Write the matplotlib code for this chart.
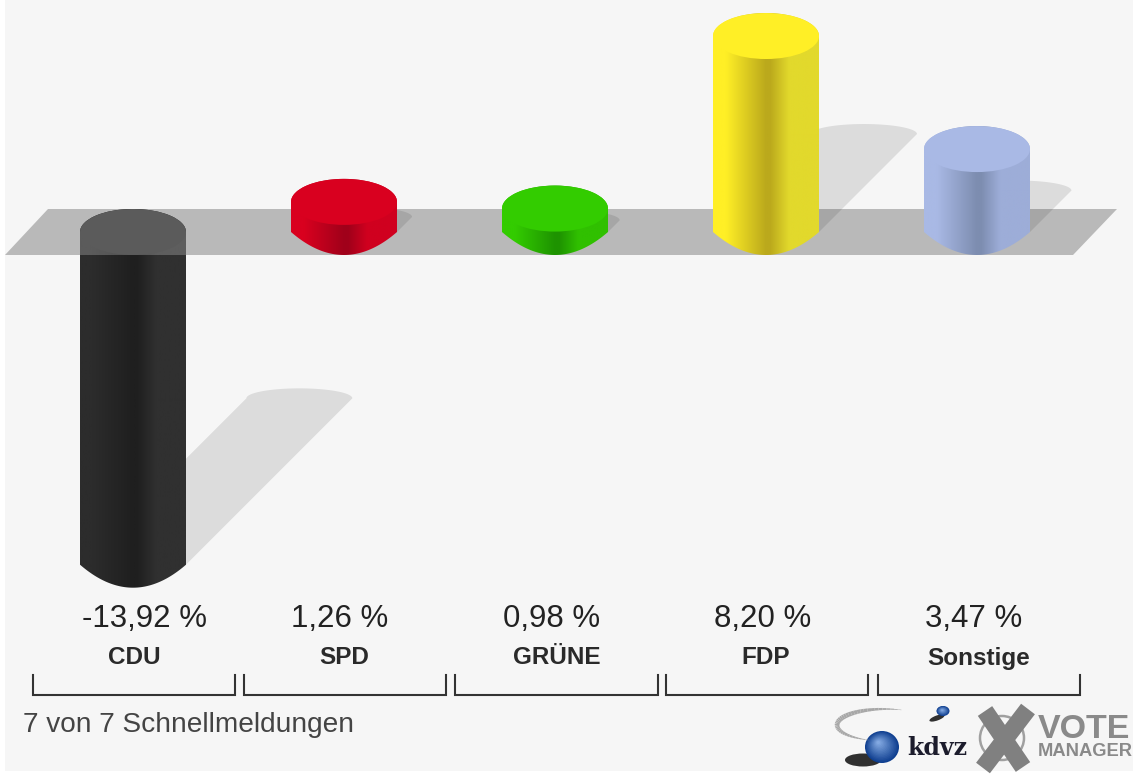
import numpy as np
import matplotlib
matplotlib.use('Agg')
import matplotlib.pyplot as plt
from matplotlib.colors import LinearSegmentedColormap, to_rgb
from matplotlib.collections import LineCollection
from matplotlib.patches import Circle, Ellipse, Polygon, Rectangle

plt.rcParams['font.family'] = ['Liberation Sans', 'DejaVu Sans']

# Data
parties = ['CDU', 'SPD', 'GRÜNE', 'FDP', 'Sonstige']
changes = [-13.92, 1.26, 0.98, 8.20, 3.47]
change_labels = ['-13,92 %', '1,26 %', '0,98 %', '8,20 %', '3,47 %']
footer = '7 von 7 Schnellmeldungen'

# Colours per party: top face, then side shading from edge to centre and back
top_colors = ['#2c2c2c', '#d9001f', '#33cc00', '#ffef26', '#a9b9e5']
centre_colors = ['#1f1f1f', '#a0001a', '#1e9300', '#bba91c', '#7d8db0']
right_colors = ['#303030', '#d0001f', '#30c000', '#e2d92c', '#9dadd8']

# Picture geometry
W, H = 1133, 774
BASE_Y = 232
PX_PER_PCT = 23.9
FIRST_X = 133
STEP_X = 211
RX = 53 / STEP_X
RY = 23 / PX_PER_PCT
SHADOW_RY = 10 / PX_PER_PCT
label_centres = [134, 344, 557, 766, 979]
value_centres = [144, 340, 552, 763, 974]
bracket_spans = [(33, 235), (244, 446), (455, 658), (666, 868), (878, 1080)]

fig = plt.figure(figsize=(W / 100, H / 100), dpi=100, facecolor='white')

# Back axes in pixels: background, plane, captions, logos
bg = fig.add_axes([0, 0, 1, 1])
bg.set_xlim(0, W)
bg.set_ylim(H, 0)
bg.axis('off')
bg.add_patch(Rectangle((5, 0), W - 5, 771, color='#f6f6f6', lw=0))
bg.add_patch(Polygon([(5, 255), (48, 209), (1117, 209), (1073, 255)], color='#b9b9b9', lw=0))

for i in range(len(parties)):
    bg.text(value_centres[i], 619, change_labels[i], fontsize=22.5, color='#222222',
            ha='center', va='center')
    bg.text(label_centres[i], 658, parties[i], fontsize=17.5, color='#2a2a2a',
            ha='center', va='center', fontweight='bold')
    x0, x1 = bracket_spans[i]
    bg.plot([x0, x0, x1, x1], [675, 695, 695, 675], color='#333333', lw=1.5,
            solid_joinstyle='miter')

bg.text(23, 725, footer, fontsize=20.2, color='#444444', ha='left', va='center')

# kdvz logo
t = np.radians(np.linspace(70, 250, 40))
arc_x = 885 + 48 * np.cos(t)
arc_y = 725 - 16 * np.sin(t)
segs = np.stack([np.c_[arc_x[:-1], arc_y[:-1]], np.c_[arc_x[1:], arc_y[1:]]], axis=1)
widths = 0.3 + 3.2 * np.sin(np.linspace(0, np.pi, 39))
bg.add_collection(LineCollection(segs, colors='#a8a8a8', linewidths=widths))
bg.add_patch(Ellipse((863, 760), 36, 13, color='#303030', lw=0))
bg.add_patch(Ellipse((937, 718), 16, 5, angle=-20, color='#303030', lw=0))
dark = np.array(to_rgb('#0f3f90'))
light = np.array(to_rgb('#8fb4ea'))
for frac in np.linspace(1, 0.1, 14):
    col = dark + (light - dark) * (1 - frac)
    bg.add_patch(Ellipse((882 - 4 * (1 - frac), 747 - 5 * (1 - frac)), 34 * frac, 32 * frac,
                         color=col, lw=0))
    bg.add_patch(Ellipse((943 - (1 - frac), 711 - (1 - frac)), 13 * frac, 10 * frac,
                         color=col, lw=0))
bg.text(937, 748, 'kdvz', fontsize=17, fontweight='bold', color='#1c1c2c',
        family='DejaVu Serif', ha='center', va='center')

# Vote manager logo
bg.add_patch(Circle((1002, 738), 22, fill=False, ec='#a0a0a0', lw=1.8))
bg.plot([985, 1023], [711, 767], color='#808080', lw=12.5, solid_capstyle='butt')
bg.plot([1028, 983], [709, 768], color='#808080', lw=12.5, solid_capstyle='butt')
bg.text(1038, 729, 'VOTE', fontsize=24.5, fontweight='bold', color='#8a8a8a', ha='left', va='center')
bg.text(1038, 752, 'MANAGER', fontsize=13.2, fontweight='bold', color='#8a8a8a', ha='left', va='center')

# Front axes in data units: x is the party index, y is the change in percent
ax = fig.add_axes([0, 0, 1, 1])
ax.patch.set_alpha(0)
ax.axis('off')
xlim = (-FIRST_X / STEP_X, (W - FIRST_X) / STEP_X)
ylim = ((BASE_Y - H) / PX_PER_PCT, BASE_Y / PX_PER_PCT)

theta = np.linspace(0, np.pi, 60)
across = np.linspace(-1, 1, 60)

# Shadows fall up and to the right from the lower end of each bar
for i, v in enumerate(changes):
    low = min(0, v)
    rise = abs(v) * 0.5
    sx = i + rise * PX_PER_PCT / STEP_X
    arc = np.c_[sx + RX * np.cos(theta), low + rise + SHADOW_RY * np.sin(theta)]
    pts = np.vstack([[[i + RX, low]], arc, [[i - RX, low]]])
    ax.add_patch(Polygon(pts, color='black', alpha=0.1, lw=0, zorder=1))

# Cylinders, the foot is a bowl that meets the sides at a corner
for i, v in enumerate(changes):
    low = min(0, v)
    high = max(0, v)
    cmap = LinearSegmentedColormap.from_list(
        'side', [(0, top_colors[i]), (0.12, top_colors[i]), (0.5, centre_colors[i]),
                 (0.54, centre_colors[i]), (0.72, right_colors[i]), (1, right_colors[i])])
    upper = np.c_[i + RX * np.cos(theta), high + RY * np.sin(theta)]
    lower = np.c_[i + RX * across, low - RY * (1 - across ** 2)]
    body = Polygon(np.vstack([upper, lower]), closed=True, color='none', lw=0, zorder=2)
    ax.add_patch(body)
    img = ax.imshow(np.linspace(0, 1, 256)[None, :], cmap=cmap, aspect='auto', zorder=2,
                    extent=(i - RX, i + RX, low - RY, high + RY))
    img.set_clip_path(body)
    ax.add_patch(Ellipse((i, high), 2 * RX, 2 * RY, color=top_colors[i], lw=0, zorder=3))
    if v < 0:
        # the plane lies over the top of a falling bar
        veil = Rectangle((i - RX, -23 / PX_PER_PCT), 2 * RX, 46 / PX_PER_PCT, color='white',
                         alpha=0.225, lw=0, zorder=4)
        ax.add_patch(veil)
        veil.set_clip_path(body)

ax.set_xlim(*xlim)
ax.set_ylim(*ylim)

plt.savefig('out.png', dpi=100, facecolor='white')
